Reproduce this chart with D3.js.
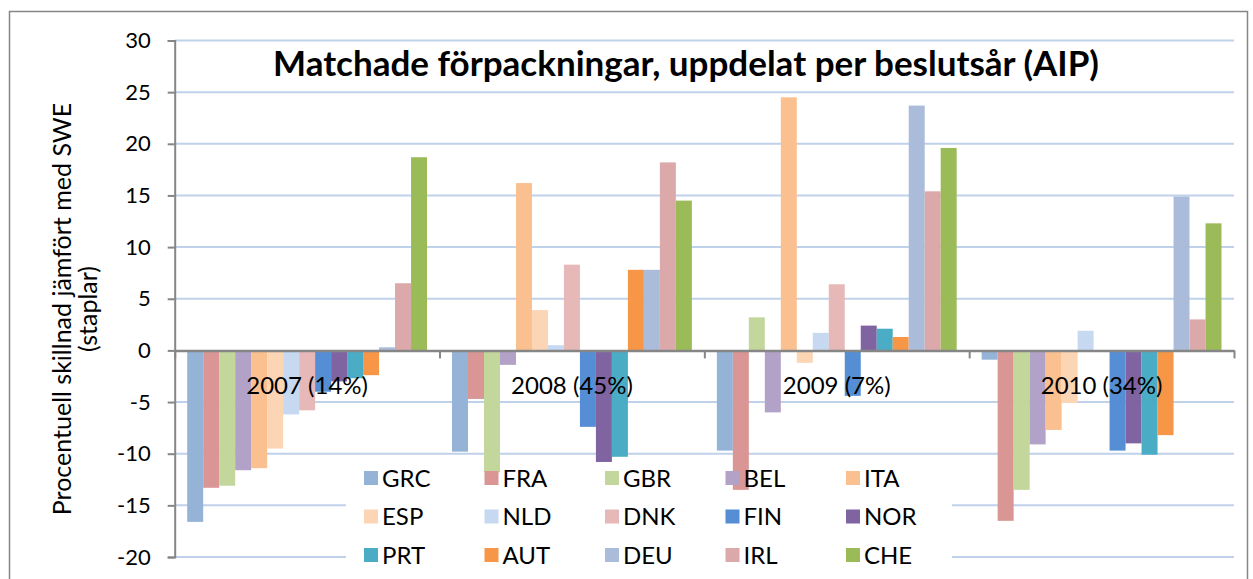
<!DOCTYPE html>
<html>
<head>
<meta charset="utf-8">
<script src="https://cdn.jsdelivr.net/npm/d3@7"></script>
<style>
  html, body { margin: 0; padding: 0; background: #fff; }
  svg { display: block; }
  text { font-family: Lato, "Open Sans", sans-serif; fill: #000; }
</style>
</head>
<body>
<svg id="chart" width="1253" height="579"></svg>
<script>
const countries = ["GRC","FRA","GBR","BEL","ITA","ESP","NLD","DNK","FIN","NOR","PRT","AUT","DEU","IRL","CHE"];
const colors = ["#95b3d7","#d99694","#c3d69b","#b3a2c7","#fac090","#fcd5b5","#c6d9f1","#e6b9b8","#558ed5","#8064a2","#4bacc6","#f79646","#abbcda","#dba9a9","#9bbb59"];
const years = ["2007 (14%)","2008 (45%)","2009 (7%)","2010 (34%)"];
const v2007 = [-16.6,-13.3,-13.1,-11.6,-11.4,-9.5,-6.2,-5.8,-4.0,-3.0,-2.7,-2.4,0.3,6.5,18.7];
const v2008 = [-9.8,-4.7,-11.8,-1.4,16.2,3.9,0.5,8.3,-7.4,-10.8,-10.3,7.8,7.8,18.2,14.5];
const v2009 = [-9.7,-13.5,3.2,-6.0,24.5,-1.2,1.7,6.4,-4.4,2.4,2.1,1.3,23.7,15.4,19.6];
const v2010 = [-0.9,-16.5,-13.5,-9.1,-7.7,-5.1,1.9,0,-9.7,-9.0,-10.1,-8.2,14.9,3.0,12.3];
const yTicks = [-20,-15,-10,-5,0,5,10,15,20,25,30];
const title = "Matchade förpackningar, uppdelat per beslutsår (AIP)";
const yTitle1 = "Procentuell skillnad jämfört med SWE";
const yTitle2 = "(staplar)";

const seriesByYear = [v2007, v2008, v2009, v2010];
const data = [];
years.forEach((yr, gi) => {
  countries.forEach((c, ci) => data.push({year: yr, country: c, value: seriesByYear[gi][ci], color: colors[ci]}));
});

const svg = d3.select("#chart");
const left = 174.7, right = 1234;
const fontTick = 22, fontLabel = 24;

// outer chart border
svg.append("rect").attr("x", 9.5).attr("y", 11.5).attr("width", 1238).attr("height", 600)
  .attr("fill", "#fff").attr("stroke", "#868686").attr("stroke-width", 1.5);

const y = d3.scaleLinear().domain([-20, 30]).range([557, 40.5]);
const x0 = d3.scaleBand().domain(years).range([left, right]).padding(0);
const gw = x0.bandwidth();
const x1 = d3.scaleBand().domain(countries).range([12.5, gw - 12.5]).padding(0);

// gridlines
svg.append("g").selectAll("line").data(yTicks.filter(t => t !== 0)).join("line")
  .attr("x1", left).attr("x2", right)
  .attr("y1", d => y(d)).attr("y2", d => y(d))
  .attr("stroke", "#c0d2ea").attr("stroke-width", 2);

// legend background (hides gridlines behind it)
svg.append("rect").attr("x", 346).attr("y", 462).attr("width", 606).attr("height", 120).attr("fill", "#fff");

// title
svg.append("text").attr("x", 686).attr("y", 76).attr("text-anchor", "middle")
  .attr("font-size", 35).attr("font-weight", "bold").text(title);

// bars
svg.append("g").selectAll("rect").data(data).join("rect")
  .attr("x", d => x0(d.year) + x1(d.country))
  .attr("width", x1.bandwidth())
  .attr("y", d => y(Math.max(0, d.value)))
  .attr("height", d => Math.abs(y(d.value) - y(0)))
  .attr("fill", d => d.color);

// y axis
const yAxis = svg.append("g").attr("transform", `translate(${left},0)`)
  .call(d3.axisLeft(y).tickValues(yTicks).tickSize(7).tickPadding(17).tickFormat(d => String(d)));
yAxis.select(".domain").attr("stroke", "#868686").attr("stroke-width", 2);
yAxis.selectAll(".tick line").attr("stroke", "#868686").attr("stroke-width", 2);
yAxis.selectAll(".tick text").attr("font-size", fontTick).attr("font-family", "Lato, 'Open Sans', sans-serif").attr("fill", "#000");

// x axis on zero line, ticks at group boundaries
const xb = d3.scaleLinear().domain([0, years.length]).range([left, right]);
const xAxis = svg.append("g").attr("transform", `translate(0,${y(0)})`)
  .call(d3.axisBottom(xb).tickValues(d3.range(0, years.length + 1)).tickSize(8).tickSizeOuter(0).tickFormat(""));
xAxis.select(".domain").attr("stroke", "#868686").attr("stroke-width", 2.5);
xAxis.selectAll(".tick line").attr("stroke", "#868686").attr("stroke-width", 2);

// category labels
svg.append("g").selectAll("text").data(years).join("text")
  .attr("x", d => x0(d) + gw / 2).attr("y", 393.5)
  .attr("text-anchor", "middle").attr("font-size", fontLabel).text(d => d);

// y axis title
svg.append("text").attr("transform", "translate(70.5,309) rotate(-90)")
  .attr("text-anchor", "middle").attr("font-size", 25).text(yTitle1);
svg.append("text").attr("transform", "translate(97,309) rotate(-90)")
  .attr("text-anchor", "middle").attr("font-size", 25).text(yTitle2);

// legend
const lg = svg.append("g");
countries.forEach((c, i) => {
  const col = i % 5, row = Math.floor(i / 5);
  const lx = 364 + col * 120.5, ly = 478 + row * 38.5;
  lg.append("rect").attr("x", lx).attr("y", ly - 7).attr("width", 14).attr("height", 14).attr("fill", colors[i]);
  lg.append("text").attr("x", lx + 18).attr("y", ly + 8.5).attr("font-size", fontLabel).text(c);
});
</script>
</body>
</html>
